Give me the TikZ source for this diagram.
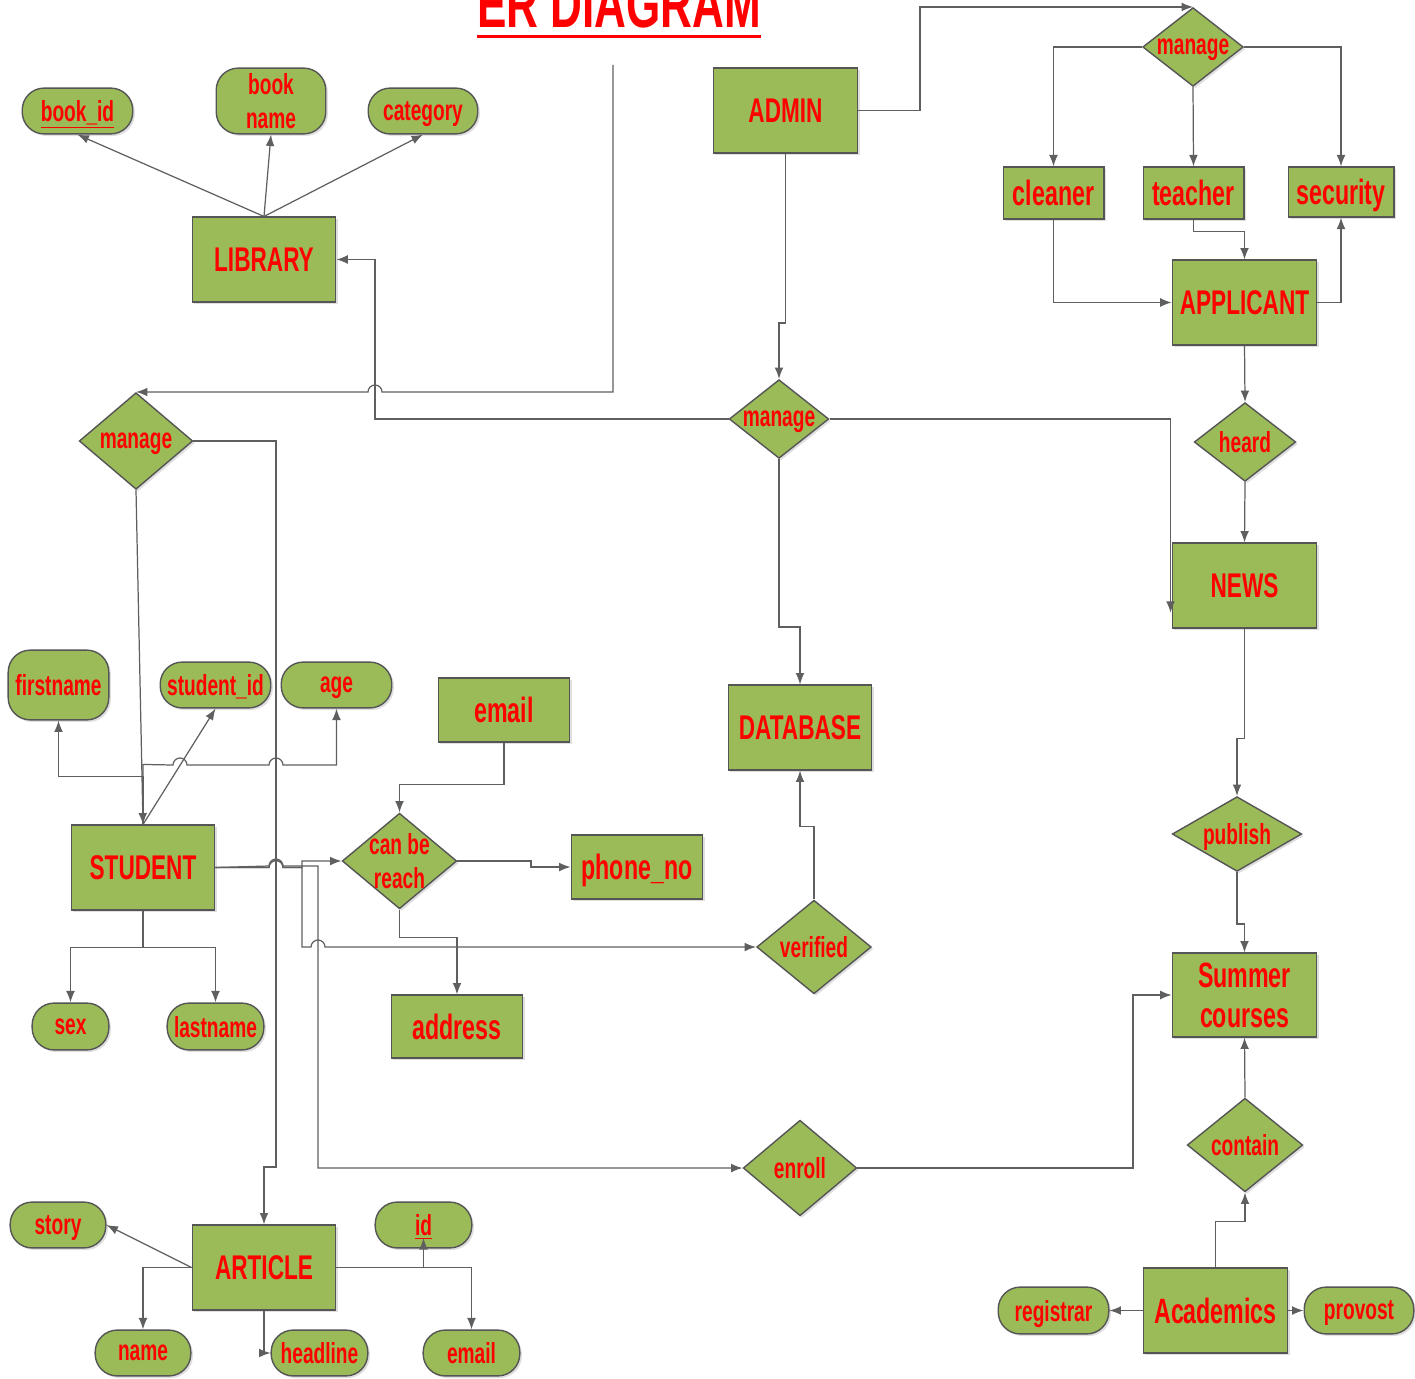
\documentclass[tikz,border=0pt]{standalone}
\usepackage{fontspec}
\setmainfont{Liberation Sans}[FakeStretch=0.66]
\usetikzlibrary{shapes.geometric,arrows.meta,shadows}
\definecolor{leaf}{HTML}{9BBB59}
\definecolor{rim}{HTML}{555555}
\definecolor{wire}{HTML}{5F5F5F}
\begin{document}
\begin{tikzpicture}[x=0.02cm,y=-0.02cm,
    >={Latex[length=6.5pt,width=5pt]},
    wh/.style 2 args={minimum width=#1*0.5669pt,minimum height=#2*0.5669pt},
    box/.style={draw=rim,fill=leaf,line width=0.8pt,inner sep=0pt,text=red,text depth=0pt,
        drop shadow={shadow xshift=1.2pt,shadow yshift=-1.2pt,opacity=0.25}},
    ent/.style={box,font=\fontsize{19.5}{22}\selectfont\bfseries},
    obj/.style={box,font=\fontsize{20}{23}\selectfont\bfseries,align=center},
    att/.style={box,rounded corners=12.5pt,font=\fontsize{16.5}{19.5}\selectfont\bfseries,align=center},
    rel/.style={box,diamond,label={[text=red,text depth=0pt,align=center,font=\fontsize{16.5}{19.5}\selectfont\bfseries]center:#1}},
    ln/.style={draw=wire,line width=0.7pt}]
\useasboundingbox (0,0) rectangle (1415,1378);

\node[font=\fontsize{38}{42}\selectfont\bfseries,text=red,inner sep=0pt,anchor=base] (title) at (619,28) {ER DIAGRAM};
\draw[red,line width=1.7pt] ([yshift=-5pt]title.base west) -- ([yshift=-5pt]title.base east);

\node[ent,wh={144}{85}] (lib) at (264,259.5) {LIBRARY};
\node[ent,wh={145}{85}] (admin) at (785.5,110.5) {ADMIN};
\node[obj,wh={101}{52}] (clean) at (1053.5,193) {cleaner};
\node[obj,wh={101}{52}] (teach) at (1193.5,193) {teacher};
\node[obj,wh={106}{50}] (sec) at (1341,192) {security};
\node[ent,wh={145}{85}] (appl) at (1244.5,302.5) {APPLICANT};
\node[ent,wh={145}{85}] (news) at (1244.5,585.5) {NEWS};
\node[ent,wh={144}{85}] (db) at (800,727.5) {DATABASE};
\node[obj,wh={132}{64}] (email) at (504,710) {email};
\node[obj,wh={132}{64}] (phone) at (637,867) {phone\_no};
\node[obj,wh={132}{63}] (addr) at (457,1026.5) {address};
\node[ent,wh={144}{85}] (stud) at (143,867.5) {STUDENT};
\node[obj,wh={145}{84}] (sum) at (1244.5,995) {Summer\\courses};
\node[ent,wh={144}{85}] (art) at (264,1267.5) {ARTICLE};
\node[obj,wh={145}{85}] (acad) at (1215.5,1310.5) {Academics};

\node[rel=manage,wh={101}{79}] (mtop) at (1193,47) {};
\node[rel=manage,wh={100}{79}] (mmid) at (779,419) {};
\node[rel=manage,wh={114}{97}] (mleft) at (136,441) {};
\node[rel=heard,wh={102}{79}] (heard) at (1245,442) {};
\node[rel=publish,wh={130}{75}] (pub) at (1237,834) {};
\node[rel={can be\\reach},wh={115}{96}] (cbr) at (399.5,861) {};
\node[rel=verified,wh={115}{94}] (ver) at (814,947) {};
\node[rel=enroll,wh={114}{96}] (enr) at (800,1168) {};
\node[rel=contain,wh={116}{94}] (cont) at (1245,1145) {};

\node[att,wh={111}{46}] (bid) at (77.5,111) {\underline{book\_id}};
\node[att,wh={110}{66}] (bname) at (271,101) {book\\name};
\node[att,wh={110}{46}] (cat) at (423,111) {category};
\node[att,wh={101}{70}] (fname) at (58.5,685) {firstname};
\node[att,wh={111}{46}] (sid) at (215.5,685) {student\_id};
\node[att,wh={111}{46}] (age) at (336.5,685) {age};
\node[att,wh={77}{47}] (sex) at (70.5,1026.5) {sex};
\node[att,wh={97}{47}] (lname) at (215.5,1026.5) {lastname};
\node[att,wh={96}{46}] (story) at (58,1225) {story};
\node[att,wh={97}{46}] (idn) at (423.5,1225) {\underline{id}};
\node[att,wh={96}{46}] (aname) at (143,1353) {name};
\node[att,wh={97}{46}] (head) at (319.5,1353) {headline};
\node[att,wh={97}{46}] (amail) at (471.5,1353) {email};
\node[att,wh={111}{47}] (reg) at (1053.5,1310.5) {registrar};
\node[att,wh={110}{47}] (prov) at (1359,1310.5) {provost};

\coordinate (loose) at (613,65);

\draw[ln,->] (lib.north) -- (bid.south);
\draw[ln,->] (lib.north) -- (bname.south);
\draw[ln,->] (lib.north) -- (cat.south);
\draw[ln,->] (loose) -- (613,392) -- (382,392) arc[start angle=0,end angle=-180,radius=7] -- (mleft.north);
\draw[ln,->] (mmid.west) -- (375,419) |- (lib.east);
\draw[ln,->] (admin.south) -- (785.5,323) -- (779,323) -- (mmid.north);
\draw[ln,->] (admin.east) -- (920,110.5) |- (mtop.north);
\draw[ln,->] (mtop.west) -| (clean.north);
\draw[ln,->] (mtop.south) -- (teach.north);
\draw[ln,->] (mtop.east) -| (sec.north);
\draw[ln,->] (clean.south) |- (appl.west);
\draw[ln,->] (teach.south) -- ++(0,12) -| (appl.north);
\draw[ln,->] (appl.east) -| (sec.south);
\draw[ln,->] (appl.south) -- (heard.north);
\draw[ln,->] (heard.south) -- (news.north);
\draw[ln,->] (mmid.east) -| ([xshift=-0.6pt,yshift=9pt]news.south west);
\draw[ln,->] (mmid.south) -- ++(0,168) -| (db.north);
\draw[ln,->] (news.south) -- ++(0,110) -| (pub.north);
\draw[ln,->] (pub.south) -- ++(0,52) -| (sum.north);
\draw[ln,->] (cont.north) -- (sum.south);
\draw[ln,->] (acad.north) -- ++(0,-46) -| (cont.south);
\draw[ln,->] (acad.west) -- (reg.east);
\draw[ln,->] (acad.east) -- (prov.west);
\draw[ln,->] (enr.east) -- (1133,1168) |- (sum.west);
\draw[ln,->] (mleft.east) -| (276,1167) -| (art.north);
\draw[ln,->] (mleft.south) -- (stud.north);
\draw[ln,->] (stud.north) -- ++(0,-48) -| (fname.south);
\draw[ln,->] (stud.north) -- ++(0,-60) -- (173,765) arc[start angle=180,end angle=360,radius=7]
    -- (269,765) arc[start angle=180,end angle=360,radius=7] -| (age.south);
\draw[ln,->] (stud.north) -- (sid.south);
\draw[ln,->] (stud.south) -- ++(0,37) -| (sex.north);
\draw[ln,->] (stud.south) -- ++(0,37) -| (lname.north);
\draw[ln,->] (stud.east) -- (269,867.5) arc[start angle=180,end angle=360,radius=7] -- (302,867.5) |- (cbr.west);
\draw[ln,->] (stud.east) -- (269,867.5) arc[start angle=180,end angle=360,radius=7] -- (302,867.5)
    -- (302,947) -- (311,947) arc[start angle=180,end angle=360,radius=7] -- (ver.west);
\draw[ln,->] (stud.east) -- (269,866) arc[start angle=180,end angle=360,radius=7] -- (318,866) |- (enr.west);
\draw[ln,->] (email.south) -- ++(0,42) -| (cbr.north);
\draw[ln,->] (cbr.east) -- (531,861) |- (phone.west);
\draw[ln,->] (cbr.south) -- ++(0,28) -| (addr.north);
\draw[ln,->] (ver.north) -- ++(0,-73) -| (db.south);
\draw[ln,->] (art.west) -- (story.east);
\draw[ln,->] (art.west) -| (aname.north);
\draw[ln,->] (art.south) |- (head.west);
\draw[ln,->] (art.east) -| (amail.north);
\draw[ln,->] (art.east -| idn.south) -- ([yshift=6pt]idn.south);
\end{tikzpicture}
\end{document}
